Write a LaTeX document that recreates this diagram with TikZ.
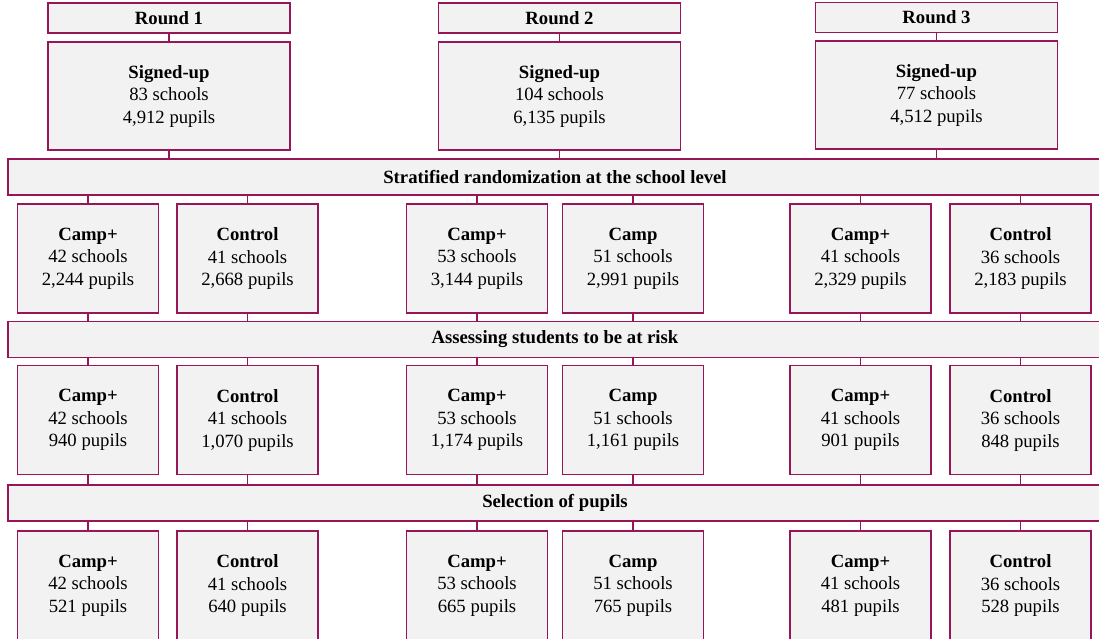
\documentclass[tikz,border=0pt]{standalone}
\usepackage{fontspec}
\setmainfont{Liberation Serif}
\definecolor{bcol}{RGB}{150,22,88}
\definecolor{boxfill}{RGB}{242,242,242}
\tikzset{
  basebox/.style={draw=bcol, fill=boxfill, line width=1.2pt, align=center, inner sep=0pt,
    font=\fontsize{18.7}{22.5}\selectfont},
  roundbox/.style={basebox, minimum width=242pt, minimum height=30pt},
  signbox/.style={basebox, minimum width=242pt, minimum height=108pt},
  band/.style={basebox, minimum width=1094pt, minimum height=36pt},
  armbox/.style={basebox, minimum width=141pt, minimum height=109pt},
  conn/.style={draw=bcol, line width=1.2pt}
}
\begin{document}
\begin{tikzpicture}[x=1pt,y=-1pt]
\useasboundingbox (0,0) rectangle (1099,638);
\clip (0,0) rectangle (1099,638);
% Rounds
\node[roundbox] (r1) at (169,18) {\textbf{Round 1}};
\node[roundbox] (r2) at (559.5,18) {\textbf{Round 2}};
\node[roundbox] (r3) at (936.5,17.5) {\textbf{Round 3}};
\node[signbox] (s1) at (169,96) {\textbf{Signed-up}\\83 schools\\4,912 pupils};
\node[signbox] (s2) at (559.5,96) {\textbf{Signed-up}\\104 schools\\6,135 pupils};
\node[signbox] (s3) at (936.5,95) {\textbf{Signed-up}\\77 schools\\4,512 pupils};
% Bands
\node[band] (b1) at (555,177) {\textbf{Stratified randomization at the school level}};
\node[band] (b2) at (555,339.5) {\textbf{Assessing students to be at risk}};
\node[band] (b3) at (555,503) {\textbf{Selection of pupils}};
% Row 1
\node[armbox] (a11) at (88,258.5) {\textbf{Camp+}\\42 schools\\2,244 pupils};
\node[armbox] (a12) at (247.5,258.5) {\textbf{Control}\\41 schools\\2,668 pupils};
\node[armbox] (a13) at (477,258.5) {\textbf{Camp+}\\53 schools\\3,144 pupils};
\node[armbox] (a14) at (633,258.5) {\textbf{Camp}\\51 schools\\2,991 pupils};
\node[armbox] (a15) at (860.5,258.5) {\textbf{Camp+}\\41 schools\\2,329 pupils};
\node[armbox] (a16) at (1020.5,258.5) {\textbf{Control}\\36 schools\\2,183 pupils};
% Row 2
\node[armbox] (a21) at (88,420) {\textbf{Camp+}\\42 schools\\940 pupils};
\node[armbox] (a22) at (247.5,420) {\textbf{Control}\\41 schools\\1,070 pupils};
\node[armbox] (a23) at (477,420) {\textbf{Camp+}\\53 schools\\1,174 pupils};
\node[armbox] (a24) at (633,420) {\textbf{Camp}\\51 schools\\1,161 pupils};
\node[armbox] (a25) at (860.5,420) {\textbf{Camp+}\\41 schools\\901 pupils};
\node[armbox] (a26) at (1020.5,420) {\textbf{Control}\\36 schools\\848 pupils};
% Row 3
\node[armbox] (a31) at (88,585.5) {\textbf{Camp+}\\42 schools\\521 pupils};
\node[armbox] (a32) at (247.5,585.5) {\textbf{Control}\\41 schools\\640 pupils};
\node[armbox] (a33) at (477,585.5) {\textbf{Camp+}\\53 schools\\665 pupils};
\node[armbox] (a34) at (633,585.5) {\textbf{Camp}\\51 schools\\765 pupils};
\node[armbox] (a35) at (860.5,585.5) {\textbf{Camp+}\\41 schools\\481 pupils};
\node[armbox] (a36) at (1020.5,585.5) {\textbf{Control}\\36 schools\\528 pupils};
% Connectors
\foreach \i in {1,2,3} {
  \draw[conn] (r\i.south) -- (s\i.north);
  \draw[conn] (s\i.south) -- (s\i.south |- b1.north);
}
\foreach \j in {1,...,6} {
  \draw[conn] (a1\j.north |- b1.south) -- (a1\j.north);
  \draw[conn] (a1\j.south) -- (a1\j.south |- b2.north);
  \draw[conn] (a2\j.north |- b2.south) -- (a2\j.north);
  \draw[conn] (a2\j.south) -- (a2\j.south |- b3.north);
  \draw[conn] (a3\j.north |- b3.south) -- (a3\j.north);
}
\end{tikzpicture}
\end{document}
